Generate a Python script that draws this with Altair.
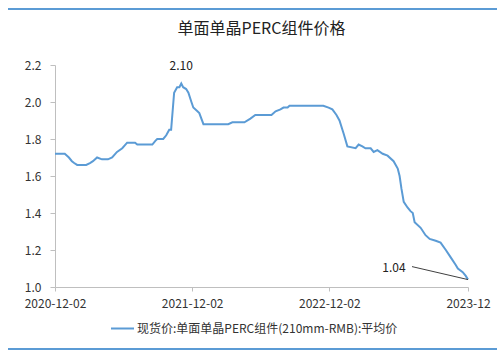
import altair as alt
import pandas as pd

dates = [
    "2020-12-02", "2020-12-28", "2021-01-08", "2021-01-16", "2021-01-22", "2021-01-30",
    "2021-02-23", "2021-03-05", "2021-03-13", "2021-03-24", "2021-04-06", "2021-04-22",
    "2021-05-03", "2021-05-16", "2021-05-30", "2021-06-12", "2021-07-03", "2021-07-09",
    "2021-08-18", "2021-08-26", "2021-08-31", "2021-09-16", "2021-09-24", "2021-10-02",
    "2021-10-07", "2021-10-15", "2021-10-23", "2021-10-29", "2021-11-03", "2021-11-08",
    "2021-11-16", "2021-11-22", "2021-11-30", "2021-12-05", "2021-12-16", "2021-12-21",
    "2022-01-01", "2022-03-08", "2022-03-19", "2022-04-20", "2022-05-06", "2022-05-19",
    "2022-07-01", "2022-07-12", "2022-07-25", "2022-08-02", "2022-08-13", "2022-08-18",
    "2022-11-16", "2022-11-30", "2022-12-10", "2022-12-21", "2022-12-29", "2023-01-09",
    "2023-01-19", "2023-02-10", "2023-02-18", "2023-02-28", "2023-03-08", "2023-03-22",
    "2023-03-30", "2023-04-09", "2023-04-23", "2023-05-06", "2023-05-22", "2023-06-02",
    "2023-06-07", "2023-06-12", "2023-06-18", "2023-06-28", "2023-07-06", "2023-07-12",
    "2023-07-17", "2023-08-02", "2023-08-15", "2023-08-26", "2023-09-11", "2023-09-24",
    "2023-10-08", "2023-10-21", "2023-11-03", "2023-11-09", "2023-11-22", "2023-11-30",
    "2023-12-06",
]
prices = [
    1.72, 1.72, 1.70, 1.68, 1.67, 1.66,
    1.66, 1.67, 1.68, 1.70, 1.69, 1.69,
    1.70, 1.73, 1.75, 1.78, 1.78, 1.77,
    1.77, 1.79, 1.80, 1.80, 1.82, 1.85,
    1.85, 2.05, 2.08, 2.08, 2.10, 2.08,
    2.07, 2.05, 2.00, 1.97, 1.95, 1.94,
    1.88, 1.88, 1.89, 1.89, 1.91, 1.93,
    1.93, 1.95, 1.96, 1.97, 1.97, 1.98,
    1.98, 1.97, 1.96, 1.93, 1.90, 1.83,
    1.76, 1.75, 1.77, 1.76, 1.75, 1.75,
    1.73, 1.74, 1.72, 1.71, 1.68, 1.64,
    1.60, 1.53, 1.46, 1.43, 1.41, 1.40,
    1.35, 1.32, 1.28, 1.26, 1.25, 1.24,
    1.20, 1.16, 1.12, 1.10, 1.08, 1.06,
    1.04,
]
series_name = "现货价:单面单晶PERC组件(210mm-RMB):平均价"
tick_dates = ["2020-12-02", "2021-12-02", "2022-12-02", "2023-12-06"]
last_tick_label = "2023-12"
y_ticks = [1.0, 1.2, 1.4, 1.6, 1.8, 2.0, 2.2]

df = pd.DataFrame({"date": dates, "price": prices, "series": series_name})

FONT = "Noto Sans CJK SC"
BLUE = "#5B9BD5"

tick_ms = [int(pd.Timestamp(d, tz="UTC").timestamp() * 1000) for d in tick_dates]
label_expr = (
    f"utcFormat(datum.value, '%Y-%m-%d') == '{tick_dates[-1]}' ? '{last_tick_label}'"
    " : utcFormat(datum.value, '%Y-%m-%d')"
)

x_enc = alt.X(
    "date:T",
    scale=alt.Scale(type="utc", domain=[tick_dates[0], tick_dates[-1]]),
    axis=alt.Axis(
        title=None, values=tick_ms, labelExpr=label_expr, grid=False,
        domainColor="#BFBFBF", tickColor="#BFBFBF", tickSize=4,
        labelFont=FONT, labelFontSize=12, labelColor="#333333",
        labelPadding=7, labelFlush=False, labelOverlap=False,
    ),
)
y_enc = alt.Y(
    "price:Q",
    scale=alt.Scale(domain=[1.0, 2.2], nice=False, zero=False),
    axis=alt.Axis(
        title=None, values=y_ticks, format=".1f", grid=False,
        domainColor="#BFBFBF", tickColor="#BFBFBF", tickSize=5,
        labelFont=FONT, labelFontSize=12, labelColor="#333333",
        labelPadding=9, labelOverlap=False,
    ),
)

line = alt.Chart(df).mark_line(strokeWidth=2).encode(
    x=x_enc,
    y=y_enc,
    color=alt.Color(
        "series:N",
        scale=alt.Scale(range=[BLUE]),
        legend=alt.Legend(
            title=None, orient="none", legendX=55, legendY=251,
            symbolType="stroke", symbolSize=529, symbolStrokeWidth=2,
            labelFont=FONT, labelFontSize=12, labelColor="#333333",
            labelLimit=400, labelOffset=2,
        ),
    ),
)

peak = alt.Chart(df).transform_window(
    rank="rank()", sort=[alt.SortField("price", order="descending")]
).transform_filter("datum.rank == 1").mark_text(
    dy=-18, font=FONT, fontSize=12, color="#222222"
).encode(x=x_enc, y=y_enc, text=alt.Text("price:Q", format=".2f"))

last = alt.Chart(df).transform_window(
    rank="rank()", sort=[alt.SortField("date", order="descending")]
).transform_filter("datum.rank == 1")

last_label = last.mark_text(
    dx=-74, dy=-12, font=FONT, fontSize=12, color="#222222"
).encode(x=x_enc, y=y_enc, text=alt.Text("price:Q", format=".2f"))

leader = last.mark_rule(
    color="#404040", strokeWidth=1, x2Offset=-56, y2Offset=-13
).encode(x=x_enc, y=y_enc, x2="date:T", y2="price:Q")

border_top = alt.Chart(df).mark_rule(color=BLUE, strokeWidth=2).encode(
    x=alt.value(-47), x2=alt.value(442), y=alt.value(-56)
)
border_bottom = alt.Chart(df).mark_rule(color=BLUE, strokeWidth=2).encode(
    x=alt.value(-47), x2=alt.value(442), y=alt.value(284)
)

chart = alt.layer(
    border_top, border_bottom, line, peak, leader, last_label
).properties(
    width=413,
    height=222,
    title=alt.Title(
        "单面单晶PERC组件价格", font=FONT, fontSize=16, fontWeight="normal",
        color="#222222", anchor="middle", offset=-29,
    ),
    autosize=alt.AutoSizeParams(type="none"),
    padding={"left": 55, "top": 65, "right": 32, "bottom": 67},
).configure_view(stroke=None)

chart.save("out.html", embed_options={"renderer": "svg", "actions": False})
